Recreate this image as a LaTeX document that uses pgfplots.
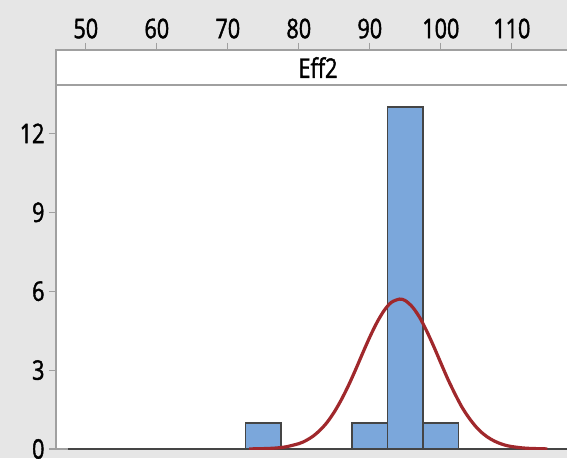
\documentclass[border=0pt]{standalone}
\usepackage{fontspec}
\setmainfont{Open Sans}[FakeStretch=0.8, FakeBold=1.5, AutoFakeBold=1.5]
\usepackage{pgfplots}
\pgfplotsset{compat=1.18}
\definecolor{bg}{HTML}{E6E6E6}
\definecolor{axgray}{HTML}{A0A0A0}
\definecolor{barfill}{HTML}{7BA7DB}
\definecolor{baredge}{HTML}{454545}
\definecolor{fitred}{HTML}{A0282C}
\begin{document}
\begin{tikzpicture}[x=1pt,y=1pt]
\fill[bg] (0,0) rectangle (567,458);
\useasboundingbox (0,0) rectangle (567,458);
\begin{axis}[at={(56pt,9pt)}, anchor=south west, scale only axis,
  width=524pt, height=364pt,
  xmin=45.8, xmax=119.6, ymin=0, ymax=13.84,
  axis background/.style={fill=white},
  axis lines*=left,
  axis line style={axgray, line width=1.2pt},
  xtick=\empty, ytick={0,3,6,9,12},
  tick style={axgray, line width=1.2pt}, major tick length=7pt, tick align=outside,
  yticklabel style={font=\fontsize{27}{27}\selectfont\bfseries, xshift=-1pt},
  /pgf/number format/assume math mode=true]
\addplot[baredge, line width=1.8pt] coordinates {(47.5,0) (119.6,0)};
\addplot[ybar, bar width=5, fill=barfill, draw=baredge, line width=1.8pt] coordinates {(75,1) (90,1) (95,13) (100,1)};
\addplot[fitred, line width=3.2pt, smooth] coordinates {
(73,0.003) (76,0.024) (78,0.074) (80,0.204) (81,0.32) (82,0.487) (83,0.72) (84,1.02) (85,1.41) (86,1.88) (87,2.42) (88,3.02) (89,3.65) (90,4.26) (91,4.81) (92,5.26) (93,5.57) (94.2,5.7) (95,5.64) (96,5.40) (97,5.01) (98,4.49) (99,3.90) (100,3.27) (101,2.65) (102,2.09) (103,1.58) (104,1.17) (105,0.83) (106,0.57) (107,0.38) (108,0.245) (109,0.15) (110,0.092) (112,0.030) (115,0.004)};
\end{axis}
\begin{axis}[at={(56pt,373pt)}, anchor=south west, scale only axis,
  width=524pt, height=35pt,
  xmin=45.8, xmax=119.6, ymin=0, ymax=1,
  axis background/.style={fill=white},
  axis line style={axgray, line width=1.2pt},
  xtick={50,60,...,110}, ytick=\empty,
  xtick pos=upper, xticklabel pos=upper,
  tick style={axgray, line width=1.2pt}, major tick length=7pt, tick align=outside,
  xticklabel style={font=\fontsize{27}{27}\selectfont\bfseries, yshift=1pt},
  /pgf/number format/assume math mode=true]
\node[font=\fontsize{27}{27}\selectfont\bfseries] at (rel axis cs:0.5,0.5) {Eff2};
\end{axis}
\end{tikzpicture}
\end{document}
